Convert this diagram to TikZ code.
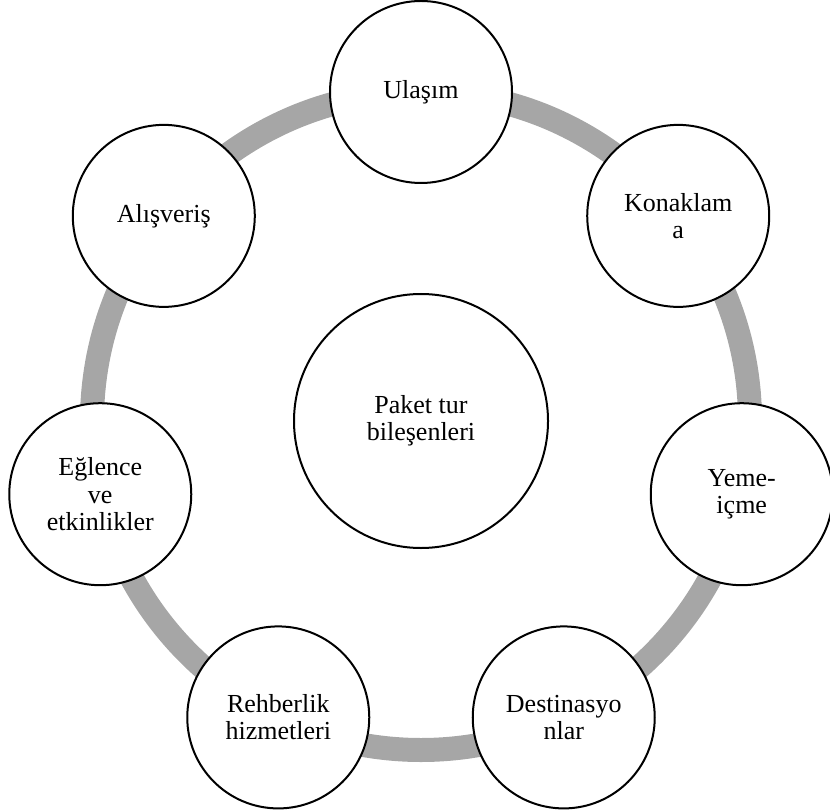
\documentclass[tikz,border=0pt]{standalone}
\usepackage{fontspec}
\setmainfont{Liberation Serif}
\usetikzlibrary{calc}
\definecolor{ringgray}{RGB}{166,166,166}

\begin{document}
\begin{tikzpicture}[
		x=0.75pt, y=0.75pt,
		hub/.style={
			draw,
			circle,
			line width=1.5pt,
			fill=white,
			minimum size=190.5pt,
			align=center,
			inner sep=0pt
		},
		part/.style={
			hub,
			minimum size=136.5pt
		},
		ring/.style={
			draw=ringgray,
			line width=18pt
		},
		font=\fontsize{19.5}{20.5}\selectfont
		]
		\useasboundingbox (0,0) rectangle (830,811);
		
		\node[hub] (hub) at (421,390) {Paket tur\\bileşenleri};
		
		% ring behind the parts
		\draw[ring] (hub.center) circle[radius=246.75pt];
		
		\foreach \txt [count=\pk] in {Ulaşım, Konaklam\\a, Yeme-\\içme, Destinasyo\\nlar,
			Rehberlik\\hizmetleri, Eğlence\\ve\\etkinlikler, Alışveriş}
		\node[part] (part-\pk) at ($(hub.center)+({90-(\pk-1)*360/7}:329)$) {\txt};
		
	\end{tikzpicture}
\end{document}
